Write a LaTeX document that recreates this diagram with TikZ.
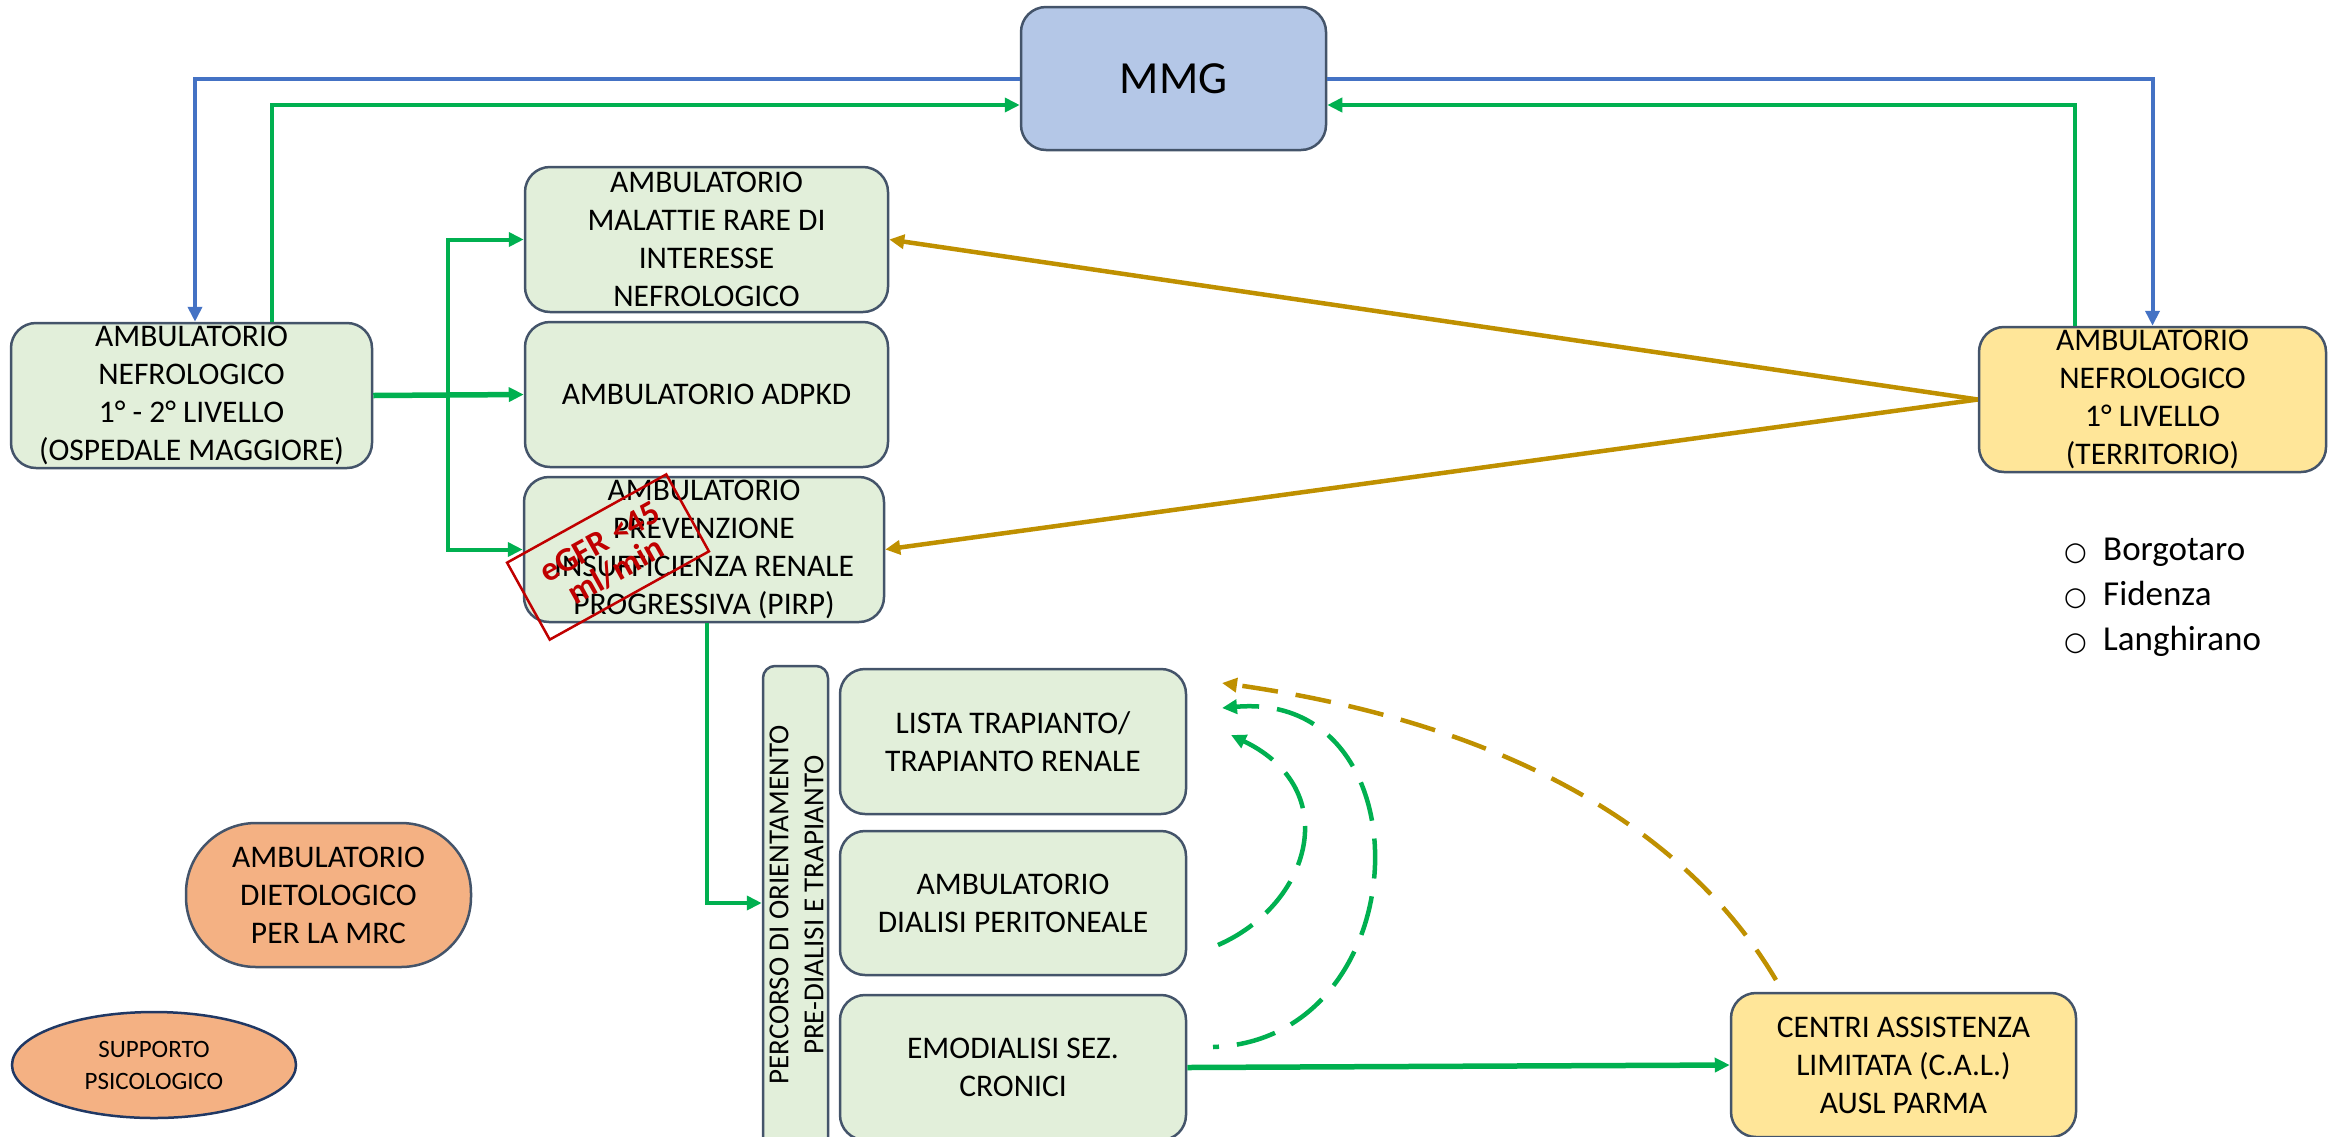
\documentclass[tikz,border=0pt]{standalone}
\usepackage{fontspec}
\setmainfont{Carlito}
\newfontfamily\symf{DejaVu Sans}
\usetikzlibrary{arrows.meta,shapes.geometric}
\definecolor{boxg}{HTML}{E2EFDA}
\definecolor{boxy}{HTML}{FFE699}
\definecolor{boxb}{HTML}{B4C7E7}
\definecolor{boxo}{HTML}{F4B183}
\definecolor{edgec}{HTML}{44546A}
\definecolor{navy}{HTML}{203864}
\definecolor{lgreen}{HTML}{00B050}
\definecolor{lblue}{HTML}{4472C4}
\definecolor{lgold}{HTML}{BF9000}
\definecolor{stampc}{HTML}{C00000}
\begin{document}
\begin{tikzpicture}[x=1pt,y=-1pt,
  box/.style={draw=edgec, line width=2.5pt, rounded corners=25pt, inner sep=0pt, align=center,
              font=\fontsize{31.5}{38}\selectfont},
  gbox/.style={box, fill=boxg},
  ybox/.style={box, fill=boxy},
  tipA/.style={-{Triangle[length=15pt,width=14pt]}},
  blu/.style={draw=lblue, line width=4pt, tipA},
  grn/.style={draw=lgreen, line width=4pt, tipA},
  grnthick/.style={draw=lgreen, line width=5.5pt, tipA},
  gld/.style={draw=lgold, line width=4.5pt, tipA},
  gdash/.style={draw=lgreen, line width=4.5pt, dash pattern=on 40pt off 18pt, tipA},
  ydash/.style={draw=lgold, line width=4.5pt, dash pattern=on 36pt off 18pt, tipA},
  bullet/.style={anchor=base west, inner sep=0pt, font=\fontsize{35}{40}\selectfont}
]
\useasboundingbox (0,0) rectangle (2333,1136);

% main boxes
\node[box, fill=boxb, minimum width=305pt, minimum height=143pt, font=\fontsize{46}{50}\selectfont] (mmg) at (1173.5,78.5) {MMG};
\node[gbox, minimum width=361pt, minimum height=145pt] (left) at (191.5,395.5)
  {AMBULATORIO\\NEFROLOGICO\\1° - 2° LIVELLO\\(OSPEDALE MAGGIORE)};
\node[gbox, minimum width=363pt, minimum height=145pt] (rare) at (706.5,239.5)
  {AMBULATORIO\\MALATTIE RARE DI\\INTERESSE\\NEFROLOGICO};
\node[gbox, minimum width=363pt, minimum height=145pt] (adpkd) at (706.5,394.5)
  {AMBULATORIO ADPKD};
\node[gbox, minimum width=360pt, minimum height=145pt] (pirp) at (704,549.5)
  {AMBULATORIO\\PREVENZIONE\\INSUFFICIENZA RENALE\\PROGRESSIVA (PIRP)};
\node[ybox, minimum width=347pt, minimum height=145pt] (right) at (2152.5,399.5)
  {AMBULATORIO\\NEFROLOGICO\\1° LIVELLO\\(TERRITORIO)};

% stamp
\node[draw=stampc, line width=2.5pt, rotate=29, minimum width=182pt, minimum height=88pt,
      inner sep=0pt, align=center, text=stampc, font=\bfseries\fontsize{34}{33}\selectfont]
      (stamp) at (608,557) {eGFR <45\\ml/min};

% percorso
\node[gbox, rounded corners=12pt, minimum width=65pt, minimum height=484pt] (perc) at (795.5,908) {};
\node[rotate=90, inner sep=0pt, align=center, font=\fontsize{29}{35}\selectfont] (perct) at (796.5,905)
  {PERCORSO DI ORIENTAMENTO\\PRE-DIALISI E TRAPIANTO};

\node[gbox, minimum width=346pt, minimum height=145pt] (lista) at (1013,741.5)
  {LISTA TRAPIANTO/\\TRAPIANTO RENALE};
\node[gbox, minimum width=346pt, minimum height=144pt] (perit) at (1013,903)
  {AMBULATORIO\\DIALISI PERITONEALE};
\node[gbox, minimum width=346pt, minimum height=145pt] (emo) at (1013,1067.5)
  {EMODIALISI SEZ.\\CRONICI};
\node[ybox, minimum width=345pt, minimum height=144pt] (cal) at (1903.5,1065)
  {CENTRI ASSISTENZA\\LIMITATA (C.A.L.)\\AUSL PARMA};

% side ovals
\node[box, fill=boxo, rounded corners=70pt, minimum width=285pt, minimum height=144pt] (diet) at (328.5,895)
  {AMBULATORIO\\DIETOLOGICO\\PER LA MRC};
\node[ellipse, draw=navy, line width=2.5pt, fill=boxo, minimum width=284pt, minimum height=106pt, inner sep=0pt,
      align=center, font=\fontsize{25}{32}\selectfont] (supp) at (154,1065)
  {SUPPORTO\\PSICOLOGICO};

% bullet list
\node[bullet] (b1) at (2064,560) {\makebox[39pt][l]{\symf\fontsize{26}{26}\selectfont ○}Borgotaro};
\node[bullet] (b2) at (2064,605) {\makebox[39pt][l]{\symf\fontsize{26}{26}\selectfont ○}Fidenza};
\node[bullet] (b3) at (2064,650) {\makebox[39pt][l]{\symf\fontsize{26}{26}\selectfont ○}Langhirano};

% MMG links
\draw[blu] (mmg.west) -| ([xshift=3.5pt]left.north);
\draw[grn] ([xshift=80.5pt]left.north) |- ([yshift=-26.5pt]mmg.west);
\draw[blu] (mmg.east) -| (right.north);
\draw[grn] ([xshift=-77.5pt]right.north) |- ([yshift=-26.5pt]mmg.east);

% hospital branches
\coordinate (br) at (448,395.5);
\draw[grnthick] (left.east) -- (adpkd.west);
\draw[grn] (br) |- (rare.west);
\draw[grn] (br) |- (pirp.west);

% territory to clinics
\draw[gld] (right.west) -- (rare.east);
\draw[gld] (right.west) -- (pirp.east);

% PIRP to percorso
\draw[grn] ([xshift=3pt]pirp.south) |- ([yshift=5pt]perc.west);

% emodialisi to CAL
\draw[grnthick] (emo.east) -- (cal.west);

% dashed curves
\coordinate (s1) at (1218,945);
\coordinate (t1) at (1231,735);
\coordinate (s2) at (1213,1047);
\coordinate (t2) at (1222,708);
\coordinate (s3) at (1776,980);
\coordinate (t3) at (1222,683);
\draw[gdash] (s1) .. controls (1310,905) and (1345,790) .. (t1);
\draw[gdash, dash phase=34pt] (s2) .. controls (1420,1040) and (1430,690) .. (t2);
\draw[ydash] (s3) .. controls (1674,808) and (1470,718) .. (t3);
\end{tikzpicture}
\end{document}
